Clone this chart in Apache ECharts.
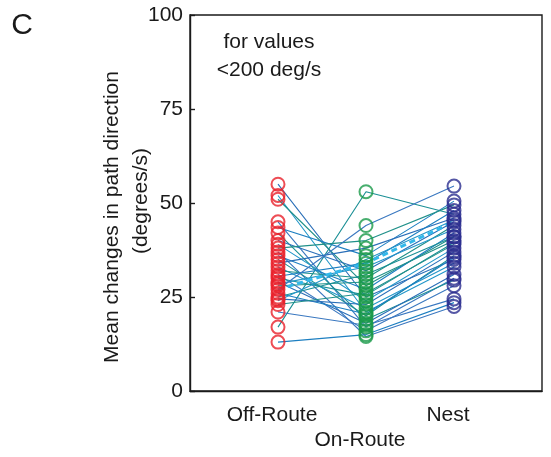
<!DOCTYPE html>
<html>
<head>
<meta charset="utf-8">
<script src="https://cdn.jsdelivr.net/npm/echarts@6/dist/echarts.min.js"></script>
<style>html,body{margin:0;padding:0;background:#fff;}#c{width:551px;height:457px;}</style>
</head>
<body>
<div id="c"></div>
<script>
// Categories (x positions 1,2,3)
var categories = ['Off-Route', 'On-Route', 'Nest'];
// Individual values (same index = same subject)
var offRoute = [13, 17, 55, 52, 51, 45, 43.5, 42, 40, 39, 38, 37, 36, 35, 34, 33, 32, 31, 30.5, 30, 29, 28.5, 28, 27, 26, 25, 24.5, 24, 23, 21];
var onRoute  = [15, 53, 25, 21, 28, 17, 36, 19, 32, 24, 40, 14.5, 27, 20, 38, 22, 30, 16, 34, 25.5, 18, 33, 29, 44, 20.5, 31, 23, 35, 26, 17.5];
var nest     = [23.5, 47, 35, 33, 41, 30, 50.5, 29.5, 45, 38, 49.5, 22.5, 42, 36, 46, 34, 44, 28, 48, 39.5, 31, 43, 40, 54.5, 35.5, 41, 37, 45.5, 39, 24.5];
// Highlighted (dashed) profile
var meanProfile = [27, 34, 45];
var yTicks = [0, 25, 50, 75, 100];

var lineColors = ['#1d7fc1', '#1a8f95', '#2a6fb8', '#2196c9', '#20908a', '#3a78c0'];
var series = [];
for (var i = 0; i < offRoute.length; i++) {
  series.push({
    type: 'line', silent: true, symbol: 'none', z: 2,
    lineStyle: { color: lineColors[i % lineColors.length], width: 1.1 },
    data: [[1, offRoute[i]], [2, onRoute[i]], [3, nest[i]]]
  });
}
series.push({
  type: 'line', silent: true, symbol: 'none', z: 3,
  lineStyle: { color: '#33b8ea', width: 3, type: [6, 4] },
  data: meanProfile.map(function (v, k) { return [k + 1, v]; })
});
function pts(arr, x) { return arr.map(function (v) { return [x, v]; }); }
var markColors = ['#e8202a', '#1a9a4a', '#2b2d8e'];
[offRoute, onRoute, nest].forEach(function (arr, k) {
  series.push({
    type: 'scatter', silent: true, z: 5, symbol: 'circle', symbolSize: 13,
    itemStyle: { color: 'rgba(0,0,0,0)', borderColor: markColors[k], borderWidth: 2 },
    data: pts(arr, k + 1)
  });
});

var FONT = 'Liberation Sans, Arial, sans-serif';
var chart = echarts.init(document.getElementById('c'), null, { renderer: 'canvas' });
chart.setOption({
  animation: false,
  backgroundColor: '#fff',
  grid: { left: 190, right: 3, top: 15, bottom: 66, show: true, borderColor: '#1a1a1a', borderWidth: 1.4 },
  xAxis: {
    type: 'value', min: 0, max: 4, interval: 1,
    axisLine: { show: true, lineStyle: { color: '#1a1a1a', width: 1.4 } },
    axisTick: { show: false },
    splitLine: { show: false },
    axisLabel: {
      fontFamily: FONT, fontSize: 21, color: '#1a1a1a',
      margin: 12, lineHeight: 25, padding: [0, 12, 0, 0],
      formatter: function (v) {
        if (v === 1) return categories[0];
        if (v === 2) return '\n' + categories[1];
        if (v === 3) return categories[2];
        return '';
      }
    }
  },
  yAxis: {
    type: 'value', min: yTicks[0], max: yTicks[yTicks.length - 1], interval: 25,
    axisLine: { show: true, lineStyle: { color: '#1a1a1a', width: 1.4 } },
    axisTick: { show: true, inside: true, length: 5, lineStyle: { color: '#1a1a1a', width: 1.4 } },
    splitLine: { show: false },
    axisLabel: { fontFamily: FONT, fontSize: 21, color: '#1a1a1a', margin: 7 }
  },
  graphic: [
    { type: 'text', x: 22, y: 26, style: { text: 'C', font: '30px ' + FONT, fill: '#1a1a1a', textAlign: 'center', textVerticalAlign: 'middle' } },
    { type: 'text', x: 269, y: 42, style: { text: 'for values', font: '21px ' + FONT, fill: '#1a1a1a', textAlign: 'center', textVerticalAlign: 'middle' } },
    { type: 'text', x: 269, y: 70, style: { text: '<200 deg/s', font: '21px ' + FONT, fill: '#1a1a1a', textAlign: 'center', textVerticalAlign: 'middle' } },
    { type: 'text', x: 112, y: 217, rotation: Math.PI / 2, style: { text: 'Mean changes in path direction', font: '21px ' + FONT, fill: '#1a1a1a', textAlign: 'center', textVerticalAlign: 'middle' } },
    { type: 'text', x: 141, y: 201, rotation: Math.PI / 2, style: { text: '(degrees/s)', font: '21px ' + FONT, fill: '#1a1a1a', textAlign: 'center', textVerticalAlign: 'middle' } }
  ],
  series: series
});
</script>
</body>
</html>
